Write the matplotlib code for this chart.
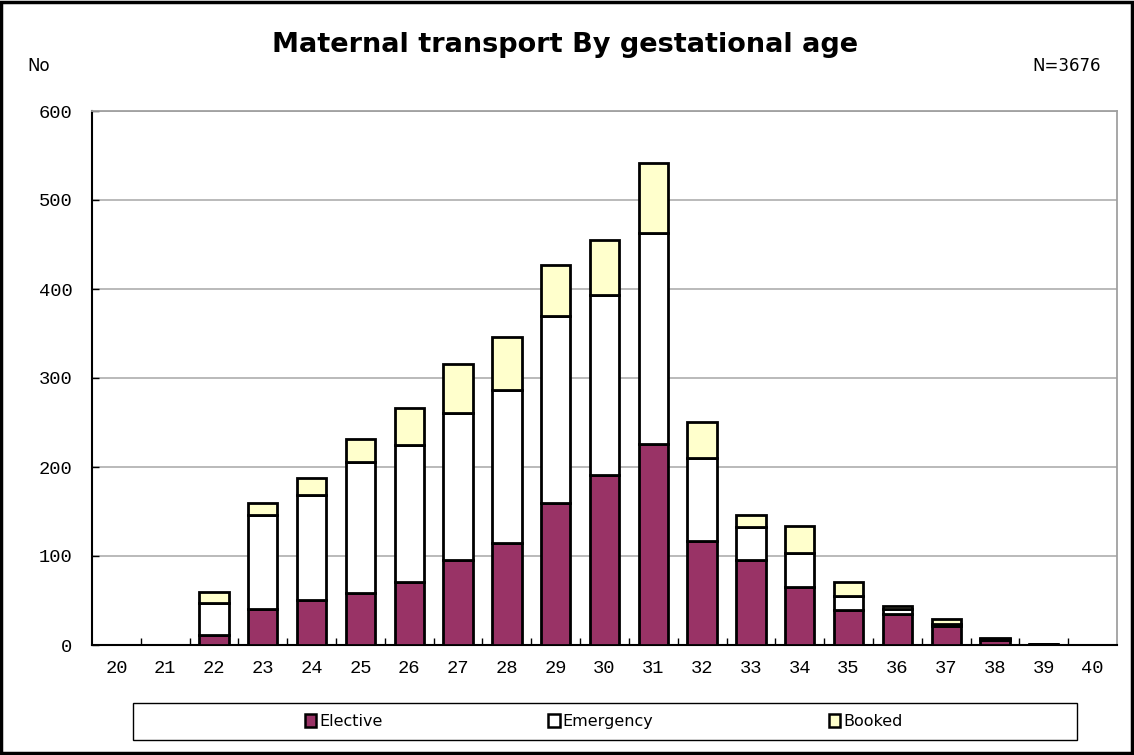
import numpy as np
import matplotlib.pyplot as plt
from matplotlib.patches import Rectangle, Patch

# gestational age (weeks)
weeks = [str(w) for w in range(20, 41)]
elective = [0, 0, 11, 41, 51, 58, 71, 96, 115, 160, 191, 226, 117, 96, 65, 39, 35, 21, 6, 1, 0]
emergency = [0, 0, 36, 105, 117, 148, 154, 165, 172, 210, 202, 237, 93, 37, 38, 16, 5, 3, 1, 0, 0]
booked = [0, 0, 13, 14, 20, 25, 41, 55, 59, 57, 62, 79, 41, 13, 31, 16, 4, 5, 1, 0, 0]
series_names = ["Elective", "Emergency", "Booked"]
colors = ["#993366", "#FFFFFF", "#FFFFCC"]

fig = plt.figure(figsize=(11.34, 7.55), dpi=100)
ax = fig.add_axes([92 / 1134, 110 / 755, 1025 / 1134, 534 / 755])

x = np.arange(len(weeks))
bottom = np.zeros(len(weeks))
for vals, name, col in zip([elective, emergency, booked], series_names, colors):
    v = np.array(vals, dtype=float)
    ax.bar(x, v, width=0.6, bottom=bottom, color=col, edgecolor="black",
           linewidth=2.0, label=name, zorder=3)
    bottom += v

ax.set_xlim(-0.5, len(weeks) - 0.5)
ax.set_ylim(0, 600)
ax.set_yticks(range(0, 601, 100))
ax.set_xticks(x)
ax.set_xticklabels(weeks)
ax.set_xticks(np.arange(0.5, len(weeks) - 0.5), minor=True)
ax.tick_params(axis="x", which="major", length=0, pad=11)
ax.tick_params(axis="x", which="minor", length=5, direction="in", width=1)
ax.tick_params(axis="y", length=5, direction="in", width=1, pad=14)
for lab in ax.get_xticklabels() + ax.get_yticklabels():
    lab.set_family("Liberation Mono")
    lab.set_fontsize(13.5)

ax.grid(axis="y", color="#B4B4B4", linewidth=1.3, zorder=0)
ax.spines["left"].set_color("black")
ax.spines["bottom"].set_color("black")
ax.spines["left"].set_linewidth(1.5)
ax.spines["bottom"].set_linewidth(1.5)
ax.spines["top"].set_color("#A0A0A0")
ax.spines["right"].set_color("#A0A0A0")
ax.spines["top"].set_linewidth(1.3)
ax.spines["right"].set_linewidth(1.3)

fig.text(0.498, 0.94, "Maternal transport By gestational age", ha="center", va="center",
         fontsize=19.5, fontweight="bold", family="DejaVu Sans")
fig.text(0.024, 0.913, "No", ha="left", va="center", fontsize=12)
fig.text(0.971, 0.913, "N=3676", ha="right", va="center", fontsize=12)

# legend box
fig.patches.append(Rectangle((133 / 1134, 15 / 755), 944 / 1134, 37 / 755,
                             transform=fig.transFigure, facecolor="white",
                             edgecolor="black", linewidth=1.0))
# one centred entry per legend column, as in the source
legend_x = [344, 601, 866]
for col, name, lx in zip(colors, series_names, legend_x):
    h = Patch(facecolor=col, edgecolor="black", linewidth=1.8)
    fig.legend([h], [name], loc="center", bbox_to_anchor=(lx / 1134, 33.5 / 755),
               frameon=False, fontsize=11.5, handlelength=0.7, handleheight=0.8,
               handletextpad=0.2, borderpad=0)

# outer frame
fig.patches.append(Rectangle((0.001, 0.002), 0.997, 0.996, transform=fig.transFigure,
                             fill=False, edgecolor="black", linewidth=2.5))

fig.savefig("out.png", dpi=100)
